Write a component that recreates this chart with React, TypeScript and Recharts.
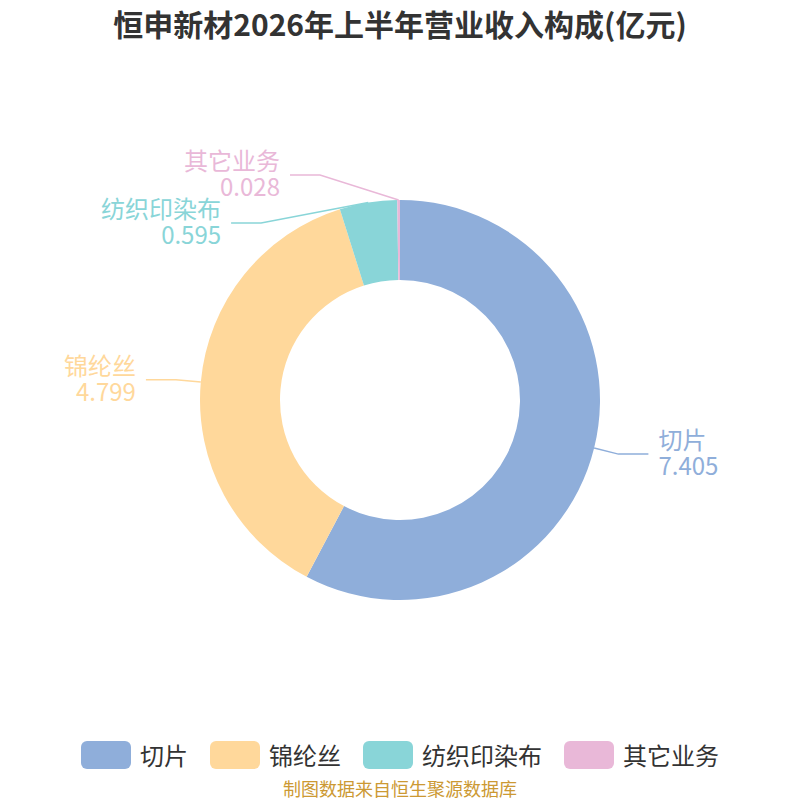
import React from 'react';
import { PieChart, Pie, Cell } from 'recharts';

const names = ['切片', '锦纶丝', '纺织印染布', '其它业务'];
const values = [7.405, 4.799, 0.595, 0.028];
const colors = ['#8FAEDA', '#FFD89B', '#89D5D8', '#E9B8D8'];

const TITLE = '恒申新材2026年上半年营业收入构成(亿元)';
const SOURCE = '制图数据来自恒生聚源数据库';
const FONT = '"Noto Sans CJK SC", "Noto Sans", sans-serif';

const CX = 400;
const CY = 400;
const R_OUT = 200;
const R_IN = 120;
const ELBOW = 225;
const SEG = 30;
const GAP = 48;
const MIN_DX = 80;

const data = names.map((name, i) => ({ name, value: values[i] }));

// label line layout, pushed apart on each side so the labels do not overlap
type LabelPos = { side: number; sx: number; sy: number; ex: number; ey: number };

const buildLayout = (): LabelPos[] => {
  const total = values.reduce((a, b) => a + b, 0);
  let acc = 0;
  const items = values.map(v => {
    const mid = 90 - ((acc + v / 2) / total) * 360;
    acc += v;
    const rad = (mid * Math.PI) / 180;
    const cos = Math.cos(rad);
    const sin = Math.sin(rad);
    return {
      side: cos >= 0 ? 1 : -1,
      sx: CX + R_OUT * cos,
      sy: CY - R_OUT * sin,
      ex: 0,
      ey: CY - ELBOW * sin,
    };
  });
  [1, -1].forEach(side => {
    const group = items.filter(it => it.side === side).sort((a, b) => a.ey - b.ey);
    for (let k = 1; k < group.length; k++) {
      if (group[k].ey < group[k - 1].ey + GAP) group[k].ey = group[k - 1].ey + GAP;
    }
  });
  items.forEach(it => {
    const dy = it.ey - CY;
    const dx = Math.sqrt(Math.max(ELBOW * ELBOW - dy * dy, 0));
    it.ex = CX + it.side * Math.max(dx, MIN_DX);
  });
  return items;
};

const layout = buildLayout();

const renderLabel = (props: any) => {
  const i = props.index;
  const l = layout[i];
  const endX = l.ex + l.side * SEG;
  const tx = endX + l.side * 10;
  const anchor = l.side > 0 ? 'start' : 'end';
  return (
    <g key={`lbl-${i}`}>
      <polyline
        points={`${l.sx},${l.sy} ${l.ex},${l.ey} ${endX},${l.ey}`}
        fill="none"
        stroke={colors[i]}
        strokeWidth={1.5}
      />
      <text textAnchor={anchor} fill={colors[i]} fontSize={24} fontFamily={FONT}>
        <tspan x={tx} y={l.ey - 5}>{names[i]}</tspan>
        <tspan x={tx} y={l.ey + 21}>{values[i].toFixed(3)}</tspan>
      </text>
    </g>
  );
};

const App: React.FC = () => {
  return (
    <div style={{ position: 'absolute', left: 0, top: 0, width: 800, height: 800, background: '#fff', fontFamily: FONT, overflow: 'hidden' }}>
      <div style={{ position: 'absolute', top: 3, left: 0, width: 800, textAlign: 'center', fontSize: 30, fontWeight: 'bold', color: '#333', lineHeight: '40px' }}>
        {TITLE}
      </div>

      <PieChart width={800} height={800} margin={{ top: 0, right: 0, bottom: 0, left: 0 }}>
        <Pie
          data={data}
          dataKey="value"
          nameKey="name"
          cx={CX}
          cy={CY}
          innerRadius={R_IN}
          outerRadius={R_OUT}
          startAngle={90}
          endAngle={-270}
          stroke="none"
          label={renderLabel}
          labelLine={false}
          isAnimationActive={false}
        >
          {data.map((_, i) => (
            <Cell key={`cell-${i}`} fill={colors[i]} />
          ))}
        </Pie>
      </PieChart>

      {/* Legend */}
      <div style={{ position: 'absolute', top: 741, left: 0, width: 800, display: 'flex', justifyContent: 'center', alignItems: 'center' }}>
        {names.map((name, i) => (
          <div key={name} style={{ display: 'flex', alignItems: 'center', marginRight: i < names.length - 1 ? 22 : 0 }}>
            <div style={{ width: 50, height: 28, borderRadius: 6, background: colors[i], marginRight: 9 }} />
            <span style={{ fontSize: 24, color: '#333', lineHeight: '28px' }}>{name}</span>
          </div>
        ))}
      </div>

      <div style={{ position: 'absolute', top: 778, left: 0, width: 800, textAlign: 'center', fontSize: 18, color: '#CC9933', lineHeight: '20px' }}>
        {SOURCE}
      </div>
    </div>
  );
};

export default App;
